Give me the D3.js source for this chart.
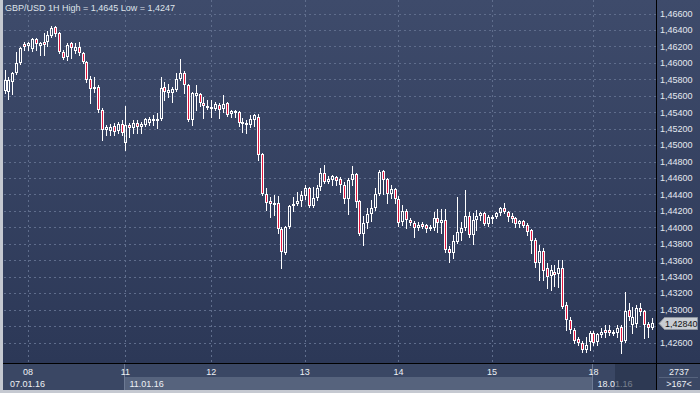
<!DOCTYPE html>
<html><head><meta charset="utf-8">
<script src="https://cdn.jsdelivr.net/npm/d3@7"></script>
<style>html,body{margin:0;padding:0;background:#c5c9d1;} svg{display:block}</style>
</head><body>
<svg id="c" width="700" height="393"></svg>
<script>
// ---------------- DATA (GBP/USD 1H) ----------------
const title = "GBP/USD 1H High = 1,4645 Low = 1,4247";
const opens = [1.4566,1.4565,1.4577,1.4588,1.4600,1.4623,1.4620,1.4617,1.4629,1.4620,1.4625,1.4625,1.4633,1.4644,1.4636,1.4613,1.4607,1.4624,1.4614,1.4619,
1.4612,1.4601,1.4580,1.4568,1.4571,1.4543,1.4518,1.4517,1.4523,1.4517,1.4526,1.4503,1.4524,1.4521,1.4527,1.4522,1.4524,1.4527,1.4529,1.4529,
1.4532,1.4571,1.4563,1.4563,1.4567,1.4580,1.4588,1.4573,1.4531,1.4560,1.4562,1.4551,1.4545,1.4544,1.4544,1.4549,1.4544,1.4551,1.4538,1.4539,
1.4540,1.4526,1.4527,1.4524,1.4531,1.4534,1.4489,1.4441,1.4432,1.4427,1.4430,1.4398,1.4369,1.4400,1.4426,1.4428,1.4432,1.4438,1.4448,1.4426,
1.4436,1.4449,1.4466,1.4455,1.4458,1.4461,1.4459,1.4452,1.4434,1.4458,1.4465,1.4432,1.4392,1.4405,1.4416,1.4424,1.4441,1.4469,1.4459,1.4441,
1.4447,1.4434,1.4406,1.4420,1.4409,1.4405,1.4399,1.4404,1.4403,1.4398,1.4399,1.4411,1.4405,1.4409,1.4374,1.4369,1.4382,1.4393,1.4399,1.4414,
1.4391,1.4409,1.4414,1.4418,1.4404,1.4411,1.4413,1.4418,1.4424,1.4419,1.4414,1.4411,1.4404,1.4408,1.4403,1.4397,1.4385,1.4357,1.4371,1.4351,
1.4341,1.4346,1.4343,1.4351,1.4306,1.4287,1.4275,1.4264,1.4259,1.4251,1.4261,1.4272,1.4261,1.4269,1.4275,1.4275,1.4272,1.4272,1.4279,1.4262,
1.4300,1.4281,1.4283,1.4302,1.4298,1.4283,1.4278];
const highs = [1.4591,1.4583,1.4589,1.4613,1.4619,1.4625,1.4625,1.4630,1.4630,1.4625,1.4636,1.4639,1.4645,1.4645,1.4637,1.4616,1.4624,1.4625,1.4624,1.4625,
1.4613,1.4602,1.4584,1.4583,1.4573,1.4545,1.4524,1.4526,1.4527,1.4528,1.4531,1.4548,1.4527,1.4531,1.4531,1.4528,1.4533,1.4534,1.4537,1.4539,
1.4583,1.4577,1.4574,1.4571,1.4588,1.4605,1.4590,1.4574,1.4565,1.4573,1.4563,1.4558,1.4555,1.4555,1.4552,1.4551,1.4561,1.4552,1.4543,1.4543,
1.4541,1.4533,1.4531,1.4537,1.4538,1.4538,1.4490,1.4448,1.4437,1.4439,1.4438,1.4400,1.4402,1.4427,1.4437,1.4443,1.4444,1.4452,1.4449,1.4449,
1.4451,1.4472,1.4476,1.4462,1.4464,1.4462,1.4461,1.4455,1.4460,1.4475,1.4466,1.4433,1.4414,1.4424,1.4433,1.4448,1.4470,1.4470,1.4460,1.4451,
1.4448,1.4438,1.4427,1.4422,1.4411,1.4408,1.4406,1.4406,1.4404,1.4403,1.4419,1.4422,1.4422,1.4422,1.4377,1.4391,1.4437,1.4406,1.4445,1.4419,
1.4417,1.4421,1.4419,1.4419,1.4415,1.4415,1.4419,1.4425,1.4430,1.4420,1.4418,1.4413,1.4409,1.4409,1.4405,1.4398,1.4387,1.4379,1.4375,1.4357,
1.4354,1.4354,1.4360,1.4360,1.4309,1.4291,1.4278,1.4267,1.4262,1.4267,1.4274,1.4274,1.4272,1.4278,1.4281,1.4281,1.4275,1.4281,1.4281,1.4321,
1.4308,1.4303,1.4306,1.4308,1.4300,1.4285,1.4290];
const lows = [1.4563,1.4556,1.4562,1.4586,1.4599,1.4616,1.4616,1.4614,1.4616,1.4610,1.4609,1.4620,1.4631,1.4633,1.4612,1.4605,1.4603,1.4606,1.4612,1.4610,
1.4600,1.4577,1.4551,1.4565,1.4540,1.4506,1.4512,1.4512,1.4512,1.4515,1.4512,1.4494,1.4510,1.4515,1.4515,1.4515,1.4523,1.4524,1.4524,1.4521,
1.4531,1.4555,1.4558,1.4552,1.4566,1.4579,1.4563,1.4529,1.4524,1.4543,1.4548,1.4533,1.4544,1.4534,1.4543,1.4533,1.4540,1.4535,1.4534,1.4534,
1.4523,1.4516,1.4515,1.4522,1.4523,1.4482,1.4439,1.4421,1.4413,1.4415,1.4393,1.4351,1.4368,1.4399,1.4420,1.4427,1.4426,1.4434,1.4425,1.4425,
1.4433,1.4445,1.4454,1.4454,1.4451,1.4452,1.4443,1.4430,1.4416,1.4452,1.4425,1.4391,1.4379,1.4399,1.4408,1.4421,1.4439,1.4441,1.4430,1.4436,
1.4430,1.4402,1.4403,1.4399,1.4403,1.4388,1.4397,1.4399,1.4394,1.4397,1.4397,1.4394,1.4393,1.4370,1.4358,1.4363,1.4381,1.4385,1.4397,1.4388,
1.4380,1.4397,1.4409,1.4403,1.4402,1.4405,1.4411,1.4415,1.4418,1.4408,1.4406,1.4400,1.4400,1.4400,1.4391,1.4369,1.4352,1.4336,1.4336,1.4326,
1.4324,1.4329,1.4327,1.4302,1.4275,1.4272,1.4259,1.4257,1.4248,1.4248,1.4251,1.4257,1.4257,1.4267,1.4267,1.4269,1.4269,1.4267,1.4247,1.4261,
1.4287,1.4272,1.4279,1.4293,1.4265,1.4267,1.4276];
const closes = [1.4579,1.4579,1.4588,1.4600,1.4618,1.4619,1.4624,1.4629,1.4623,1.4624,1.4622,1.4634,1.4642,1.4635,1.4613,1.4606,1.4622,1.4618,1.4619,1.4612,
1.4601,1.4579,1.4568,1.4571,1.4543,1.4518,1.4522,1.4522,1.4516,1.4526,1.4515,1.4524,1.4521,1.4527,1.4522,1.4526,1.4532,1.4532,1.4532,1.4532,
1.4569,1.4565,1.4567,1.4568,1.4580,1.4588,1.4573,1.4531,1.4563,1.4563,1.4551,1.4548,1.4548,1.4546,1.4550,1.4543,1.4550,1.4537,1.4541,1.4541,
1.4527,1.4528,1.4524,1.4532,1.4537,1.4488,1.4441,1.4430,1.4428,1.4430,1.4398,1.4370,1.4400,1.4426,1.4428,1.4432,1.4439,1.4448,1.4426,1.4436,
1.4448,1.4466,1.4455,1.4459,1.4462,1.4456,1.4452,1.4434,1.4458,1.4465,1.4431,1.4392,1.4405,1.4416,1.4424,1.4441,1.4467,1.4458,1.4441,1.4447,
1.4434,1.4405,1.4420,1.4409,1.4405,1.4399,1.4403,1.4400,1.4398,1.4400,1.4411,1.4405,1.4409,1.4372,1.4369,1.4383,1.4394,1.4399,1.4414,1.4391,
1.4409,1.4414,1.4418,1.4404,1.4413,1.4413,1.4418,1.4424,1.4419,1.4413,1.4410,1.4404,1.4408,1.4402,1.4394,1.4383,1.4357,1.4371,1.4347,1.4340,
1.4348,1.4342,1.4351,1.4303,1.4287,1.4275,1.4262,1.4259,1.4251,1.4257,1.4272,1.4259,1.4270,1.4273,1.4272,1.4272,1.4273,1.4278,1.4261,1.4298,
1.4291,1.4291,1.4302,1.4297,1.4281,1.4278,1.4284];
const dayTickIndex = [6, 31, 53, 77, 101, 125, 151];
const dayLabels    = ["08", "11", "12", "13", "14", "15", "18"];
const weekIndex    = [0, 31, 151];
const weekLabels   = ["07.01.16", "11.01.16", "18.01.16"];
const priceTicks   = [1.426,1.428,1.430,1.432,1.434,1.436,1.438,1.440,1.442,1.444,1.446,1.448,1.450,1.452,1.454,1.456,1.458,1.460,1.462,1.464,1.466];
const lastPrice = 1.4284;
const totalBars = "2737";
const visibleBars = ">167<";

// ---------------- LAYOUT ----------------
const W = 700, H = 393;
const plotL = 3, plotR = 656, plotT = 0, plotB = 363;
const svg = d3.select("#c");
const defs = svg.append("defs");
const grad = defs.append("linearGradient").attr("id","bg").attr("x1",0).attr("y1",0).attr("x2",0).attr("y2",1);
grad.append("stop").attr("offset","0%").attr("stop-color","#3e4b6b");
grad.append("stop").attr("offset","100%").attr("stop-color","#2c3857");
defs.append("clipPath").attr("id","clip").append("rect")
  .attr("x",plotL+1).attr("y",plotT).attr("width",plotR-plotL-1).attr("height",plotB-plotT);

const x = d3.scaleLinear().domain([0, opens.length-1]).range([4.5, 652]);
const y = d3.scaleLinear().domain([1.426, 1.466]).range([342.5, 13.5]);
const fmt = v => d3.format(".5f")(v).replace(".", ",");

// frame
svg.append("rect").attr("width",W).attr("height",H).attr("fill","#c5c9d1");
svg.append("rect").attr("x",plotL).attr("y",0).attr("width",W-plotL).attr("height",plotB).attr("fill","url(#bg)");
svg.append("rect").attr("x",plotL).attr("y",plotB).attr("width",W-plotL).attr("height",390-plotB).attr("fill","#3a4764");

// grid
const grid = svg.append("g").attr("shape-rendering","crispEdges").attr("stroke","#5f6d8c").attr("stroke-dasharray","2,3");
grid.selectAll("line.h").data(priceTicks).join("line").attr("class","h")
  .attr("x1",plotL+1).attr("x2",plotR).attr("y1",d=>Math.round(y(d))+0.5).attr("y2",d=>Math.round(y(d))+0.5);
grid.selectAll("line.v").data(dayTickIndex).join("line").attr("class","v")
  .attr("y1",plotT).attr("y2",plotB).attr("x1",d=>Math.round(x(d))+0.5).attr("x2",d=>Math.round(x(d))+0.5);

// candles
const data = opens.map((o,i)=>({i, o, h:highs[i], l:lows[i], c:closes[i]}));
const cg = svg.append("g").attr("clip-path","url(#clip)").attr("shape-rendering","crispEdges");
const candle = cg.selectAll("g").data(data).join("g");
candle.each(function(d){
  const g = d3.select(this);
  const cx = Math.round(x(d.i));
  const yH = Math.round(y(d.h)), yL = Math.round(y(d.l));
  let top = Math.round(y(Math.max(d.o,d.c))), bot = Math.round(y(Math.min(d.o,d.c)));
  if (bot - top < 1) bot = top + 1;
  const up = d.c >= d.o;
  g.append("line").attr("x1",cx+0.5).attr("x2",cx+0.5).attr("y1",yH).attr("y2",top).attr("stroke","#ffffff");
  g.append("line").attr("x1",cx+0.5).attr("x2",cx+0.5).attr("y1",bot).attr("y2",yL+1).attr("stroke","#ffffff");
  g.append("rect").attr("x",cx-0.5).attr("y",top+0.5).attr("width",2).attr("height",Math.max(bot-top-1,1))
    .attr("fill", up ? "none" : "#e3173f").attr("stroke","#ffffff").attr("stroke-width",1);
});

// separators
svg.append("line").attr("x1",plotR+0.5).attr("x2",plotR+0.5).attr("y1",0).attr("y2",390).attr("stroke","#000").attr("shape-rendering","crispEdges");
svg.append("line").attr("x1",plotL).attr("x2",W).attr("y1",plotB+0.5).attr("y2",plotB+0.5).attr("stroke","#000").attr("shape-rendering","crispEdges");

// y axis labels
const font = "Liberation Sans, Arial, sans-serif";
svg.append("g").selectAll("text").data(priceTicks.filter(v => Math.abs(v-1.428) > 1e-9)).join("text")
  .attr("x",660).attr("y",d=>y(d)+3.3).attr("fill","#e4e9f0").attr("font-family",font).attr("font-size",9).text(fmt);

// last price tag
const ty = Math.round(y(lastPrice));
svg.append("path").attr("d",`M659,${ty+0.5} L664.5,${ty-5.5} L697.5,${ty-5.5} L697.5,${ty+6.5} L664.5,${ty+6.5} Z`)
  .attr("fill","#c9cdd3").attr("stroke","#8e949e");
svg.append("text").attr("x",665).attr("y",ty+4).attr("fill","#111").attr("font-family",font).attr("font-size",9).text(fmt(lastPrice));

// header
svg.append("text").attr("x",5).attr("y",11).attr("fill","#dfe4ea").attr("font-family",font).attr("font-size",9).text(title);

// bottom time axis
const weekStart = x(weekIndex[1]) - 1, weekEnd = x(weekIndex[2]) - 1;
svg.append("rect").attr("x",Math.round(weekStart)).attr("y",377).attr("width",Math.round(weekEnd-weekStart)).attr("height",13).attr("fill","#56637d");
svg.append("g").attr("stroke","#6d7a94").attr("shape-rendering","crispEdges").selectAll("line").data(weekIndex.slice(1)).join("line")
  .attr("x1",d=>Math.round(x(d)-1)+0.5).attr("x2",d=>Math.round(x(d)-1)+0.5).attr("y1",plotB+1).attr("y2",390);
svg.append("g").selectAll("text").data(dayTickIndex).join("text")
  .attr("x",d=>x(d)).attr("y",375).attr("text-anchor","middle").attr("fill","#eef1f5")
  .attr("font-family",font).attr("font-size",9).text((d,i)=>dayLabels[i]);
svg.append("g").selectAll("text").data(weekIndex).join("text")
  .attr("x",(d,i)=> i===0 ? 10 : x(d)+4).attr("y",387).attr("fill","#eef1f5")
  .attr("font-family",font).attr("font-size",9).text((d,i)=>weekLabels[i]);
// scroll window box
svg.append("rect").attr("x",615).attr("y",plotB+1).attr("width",plotR-615).attr("height",390-plotB-1).attr("fill","#243048").attr("opacity",0.6);

// right bottom counters
svg.append("text").attr("x",679).attr("y",375).attr("text-anchor","middle").attr("fill","#eef1f5").attr("font-family",font).attr("font-size",9).text(totalBars);
svg.append("line").attr("x1",659).attr("x2",698).attr("y1",377.5).attr("y2",377.5).attr("stroke","#56637d");
svg.append("text").attr("x",679).attr("y",387).attr("text-anchor","middle").attr("fill","#eef1f5").attr("font-family",font).attr("font-size",9).text(visibleBars);
</script>
</body></html>
